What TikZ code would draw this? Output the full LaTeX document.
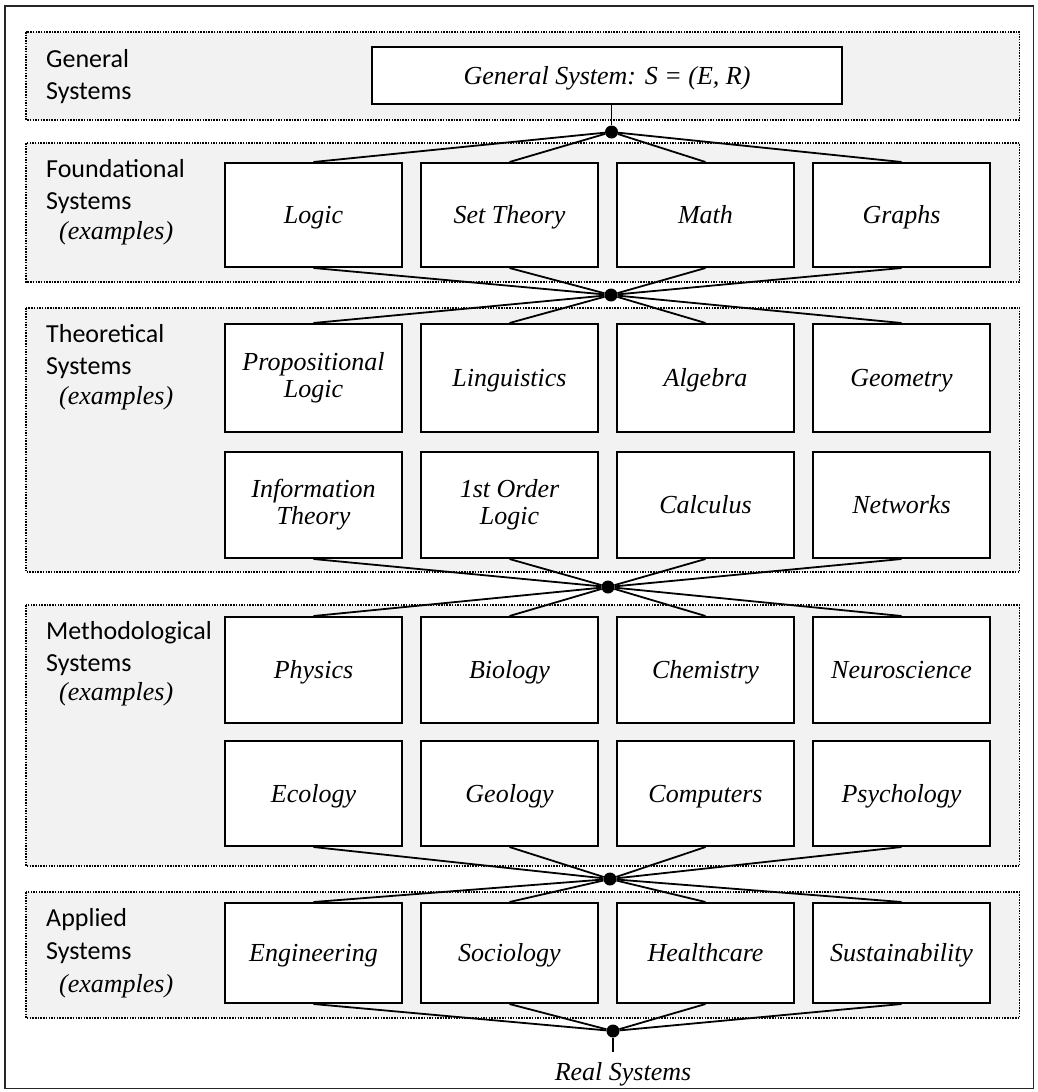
\documentclass[tikz,border=0pt]{standalone}
\usepackage{fontspec}
\setmainfont{Liberation Serif}
\newfontfamily\lblfont{Carlito}
\usetikzlibrary{calc}
\definecolor{bandgray}{RGB}{242,242,242}
\begin{document}
\begin{tikzpicture}[x=1pt,y=-1pt,
  frame/.style={draw=black!85, line width=1.8pt},
  band/.style={draw=black, line width=1.3pt, dash pattern=on 1.5pt off 1.2pt, fill=bandgray},
  bx/.style={draw=black, line width=2.4pt, fill=white, inner sep=0pt, minimum width=176.6pt,
             font=\fontsize{26}{27}\selectfont\itshape, align=center},
  one/.style={text height=17.2pt, text depth=0pt},
  lbl/.style={anchor=base west, inner sep=0pt, font=\lblfont\fontsize{26}{32}\selectfont},
  ex/.style={anchor=base west, inner sep=0pt, font=\fontsize{26}{27}\selectfont\itshape},
  dot/.style={circle, fill=black, inner sep=0pt, minimum size=13pt},
  conn/.style={draw=black, line width=1.8pt}]
\useasboundingbox (0,0) rectangle (1037,1092);
\draw[frame] (5,6) rectangle (1033.5,1088.5);

% bands
\path[band] (26,32) rectangle (1019.5,120);
\path[band] (26,143) rectangle (1019.5,282);
\path[band] (26,308) rectangle (1019.5,572);
\path[band] (26,605) rectangle (1019.5,866);
\path[band] (26,892) rectangle (1019.5,1018);

% left labels
\node[lbl] (g1) at (46,67) {General};
\node[lbl] (g2) at (46,99) {Systems};
\node[lbl] (f1l) at (46,177) {Foundational};
\node[lbl] (f2l) at (46,209) {Systems};
\node[ex]  (f3l) at (59,239) {(examples)};
\node[lbl] (t1l) at (46,342) {Theoretical};
\node[lbl] (t2l) at (46,374) {Systems};
\node[ex]  (t3l) at (59,404) {(examples)};
\node[lbl] (m1l) at (46,639) {Methodological};
\node[lbl] (m2l) at (46,671) {Systems};
\node[ex]  (m3l) at (59,700) {(examples)};
\node[lbl] (a1l) at (46,926) {Applied};
\node[lbl] (a2l) at (46,959) {Systems};
\node[ex]  (a3l) at (59,992) {(examples)};

% general system box
\node[bx, one, minimum width=469.6pt, minimum height=56.6pt] (gs) at (607,75.5) {General System: S = (E, R)};

% foundational
\node[bx, one, minimum height=103.6pt] (f1) at (313.5,215) {Logic};
\node[bx, one, minimum height=103.6pt] (f2) at (509.5,215) {Set Theory};
\node[bx, one, minimum height=103.6pt] (f3) at (705.5,215) {Math};
\node[bx, one, minimum height=103.6pt] (f4) at (901.5,215) {Graphs};

% theoretical
\node[bx, minimum height=107.6pt] (t1) at (313.5,378) {Propositional\\Logic};
\node[bx, one, minimum height=107.6pt] (t2) at (509.5,378) {Linguistics};
\node[bx, one, minimum height=107.6pt] (t3) at (705.5,378) {Algebra};
\node[bx, one, minimum height=107.6pt] (t4) at (901.5,378) {Geometry};
\node[bx, minimum height=105.6pt] (t5) at (313.5,505) {Information\\Theory};
\node[bx, minimum height=105.6pt] (t6) at (509.5,505) {1st Order\\Logic};
\node[bx, one, minimum height=105.6pt] (t7) at (705.5,505) {Calculus};
\node[bx, one, minimum height=105.6pt] (t8) at (901.5,505) {Networks};

% methodological
\node[bx, one, minimum height=105.6pt] (m1) at (313.5,670) {Physics};
\node[bx, one, minimum height=105.6pt] (m2) at (509.5,670) {Biology};
\node[bx, one, minimum height=105.6pt] (m3) at (705.5,670) {Chemistry};
\node[bx, one, minimum height=105.6pt] (m4) at (901.5,670) {Neuroscience};
\node[bx, one, minimum height=104.6pt] (m5) at (313.5,793.5) {Ecology};
\node[bx, one, minimum height=104.6pt] (m6) at (509.5,793.5) {Geology};
\node[bx, one, minimum height=104.6pt] (m7) at (705.5,793.5) {Computers};
\node[bx, one, minimum height=104.6pt] (m8) at (901.5,793.5) {Psychology};

% applied
\node[bx, one, minimum height=99.6pt] (a1) at (313.5,953) {Engineering};
\node[bx, one, minimum height=99.6pt] (a2) at (509.5,953) {Sociology};
\node[bx, one, minimum height=99.6pt] (a3) at (705.5,953) {Healthcare};
\node[bx, one, minimum height=99.6pt] (a4) at (901.5,953) {Sustainability};

% junction dots
\node[dot] (d1) at (611.5,132) {};
\node[dot] (d2) at (611,295) {};
\node[dot] (d3) at (608,587) {};
\node[dot] (d4) at (610,879) {};
\node[dot] (d5) at (613,1031) {};

% real systems
\node[anchor=base, inner sep=0pt, font=\fontsize{26}{27}\selectfont\itshape] (rs) at (623,1080) {Real Systems};
\coordinate (rsend) at (613,1052);

% connectors
\draw[conn] (gs.south -| d1) -- (d1);
\foreach \n in {f1,f2,f3,f4} {\draw[conn] (d1) -- (\n.north); \draw[conn] (\n.south) -- (d2);}
\foreach \n in {t1,t2,t3,t4} {\draw[conn] (d2) -- (\n.north);}
\foreach \n in {t5,t6,t7,t8} {\draw[conn] (\n.south) -- (d3);}
\foreach \n in {m1,m2,m3,m4} {\draw[conn] (d3) -- (\n.north);}
\foreach \n in {m5,m6,m7,m8} {\draw[conn] (\n.south) -- (d4);}
\foreach \n in {a1,a2,a3,a4} {\draw[conn] (d4) -- (\n.north); \draw[conn] (\n.south) -- (d5);}
\draw[conn] (d5) -- (rsend);
\end{tikzpicture}
\end{document}
